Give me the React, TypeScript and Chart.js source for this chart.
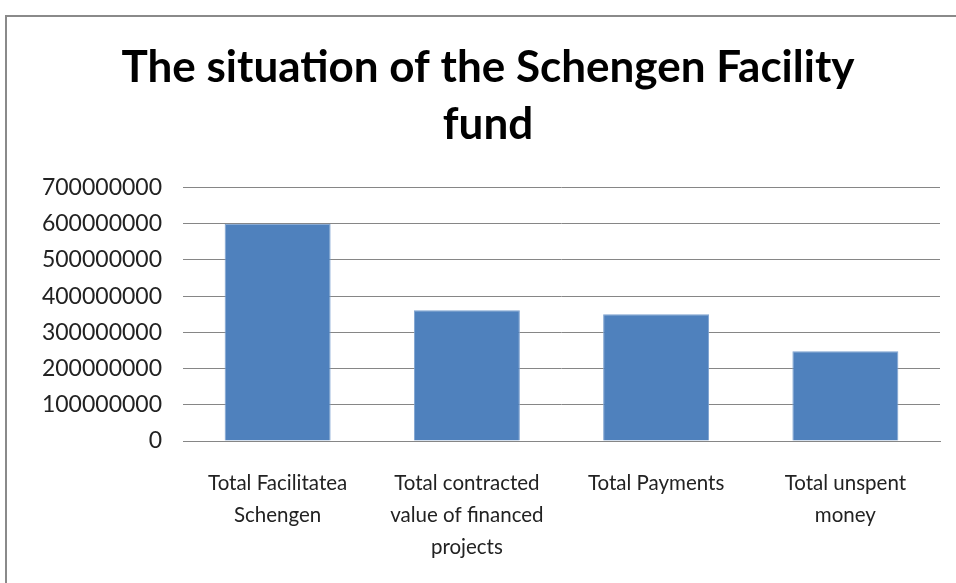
import React, { useEffect, useRef } from "react";
import { Chart, registerables } from "chart.js";

Chart.register(...registerables);

const titleLines = ["The situation of the Schengen Facility", "fund"];
const categories = [
  ["Total Facilitatea", "Schengen"],
  ["Total contracted", "value of financed", "projects"],
  ["Total Payments"],
  ["Total unspent", "money"],
];
const values = [600000000, 361000000, 350000000, 248000000];
const yMin = 0;
const yMax = 700000000;
const yStep = 100000000;

const FONT = "Lato, 'Open Sans', sans-serif";
const LEFT_PAD = 36;

export default function App() {
  const ref = useRef<HTMLCanvasElement | null>(null);

  useEffect(() => {
    if (!ref.current) return;
    const chart = new Chart(ref.current, {
      type: "bar",
      data: {
        labels: categories,
        datasets: [
          {
            data: values,
            backgroundColor: "#4F81BD",
            borderColor: "#7DA2D0",
            borderWidth: 1,
            barPercentage: 0.56,
            categoryPercentage: 1,
          },
        ],
      },
      options: {
        responsive: false,
        animation: false,
        layout: { padding: { left: LEFT_PAD, right: 16, top: 39, bottom: 10 } },
        plugins: {
          legend: { display: false },
          tooltip: { enabled: false },
          title: {
            display: true,
            text: titleLines,
            color: "#000",
            font: { family: FONT, size: 44, weight: "bold", lineHeight: 1.3 },
            padding: { top: 0, bottom: 34 },
          },
        },
        scales: {
          x: {
            grid: { display: false, drawTicks: false },
            border: { display: true, color: "#868686", width: 1 },
            ticks: {
              color: "#222",
              font: { family: FONT, size: 20.5, lineHeight: 1.56 },
              maxRotation: 0,
              minRotation: 0,
              autoSkip: false,
              padding: 26,
            },
          },
          y: {
            min: yMin,
            max: yMax,
            afterFit: (axis: any) => {
              axis.width = 183 - LEFT_PAD;
            },
            grid: { color: "#868686", lineWidth: 1, drawTicks: false },
            border: { display: false },
            ticks: {
              stepSize: yStep,
              color: "#222",
              font: { family: FONT, size: 23 },
              padding: 21,
              callback: (v: any) => String(v),
            },
          },
        },
      },
    });
    return () => chart.destroy();
  }, []);

  return (
    <div style={{ position: "absolute", left: 0, top: 0, width: 956, height: 583, background: "#fff", overflow: "hidden" }}>
      <div
        style={{
          position: "absolute",
          left: 5,
          top: 15,
          width: 1000,
          height: 600,
          borderLeft: "2px solid #8a8a8a",
          borderTop: "2px solid #8a8a8a",
        }}
      />
      <canvas ref={ref} width={956} height={599} style={{ position: "absolute", left: 0, top: 0 }} />
    </div>
  );
}
